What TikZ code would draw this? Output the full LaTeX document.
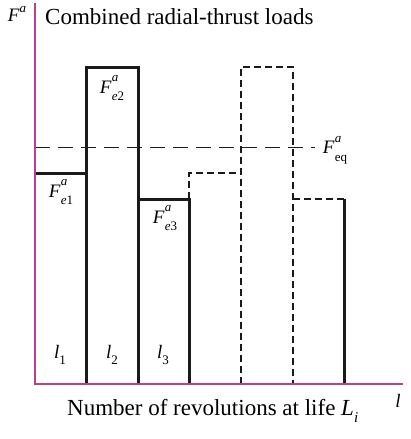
\documentclass[tikz,border=0pt]{standalone}
\usepackage{fontspec}
\setmainfont{Liberation Serif}
\definecolor{axiscol}{HTML}{B8408C}
\definecolor{barcol}{HTML}{1A1A1A}
\newcommand{\Flab}[2]{\textit{F}\kern0.02em\makebox[0pt][l]{\raisebox{0.62em}{\fontsize{13}{13}\selectfont\textit{a}}}\raisebox{-0.38em}{\fontsize{13}{13}\selectfont #2}}
\begin{document}
\begin{tikzpicture}[x=1pt,y=-1pt,
  solidbar/.style={barcol, line width=3pt, line join=miter},
  dashbar/.style={barcol, line width=2pt, dash pattern=on 7pt off 4pt},
  eqline/.style={barcol, line width=1pt, dash pattern=on 15pt off 8pt},
  axisline/.style={axiscol, line width=2pt},
  lab/.style={inner sep=0pt, font=\fontsize{19}{19}\selectfont},
  bigtext/.style={inner sep=0pt, font=\fontsize{23}{23}\selectfont}]
\useasboundingbox (0,0) rectangle (411,439);
% equivalent load line
\coordinate (eqA) at (35,147);
\coordinate (eqB) at (315,147);
\draw[eqline] (eqA) -- (eqB);
% solid bars
\draw[solidbar] (35,173) -- (86,173);
\draw[solidbar] (86,384) -- (86,67) -- (138,67) -- (138,384);
\draw[solidbar] (138,199) -- (189,199) -- (189,384);
% dashed bars
\draw[dashbar] (189,199) -- (189,173) -- (241,173);
\draw[dashbar] (241,384) -- (241,67) -- (293,67) -- (293,384);
\draw[dashbar] (293,199) -- (344,199);
\draw[solidbar] (344,199) -- (344,384);
% axes
\coordinate (ytop) at (35,3);
\coordinate (orig) at (35,384);
\coordinate (xend) at (403,384);
\draw[axisline] (ytop) -- (orig) -- (xend);
% labels
\node[lab] (fa) at (17,14) {\textit{F}\raisebox{0.5em}{\fontsize{13}{13}\selectfont\textit{a}}};
\node[bigtext, anchor=west] (title) at (45,17) {Combined radial-thrust loads};
\node[lab] (fe1) at (61,192) {\Flab{a}{\textit{e}1}};
\node[lab] (fe2) at (112,88) {\Flab{a}{\textit{e}2}};
\node[lab] (fe3) at (165,218) {\Flab{a}{\textit{e}3}};
\node[lab] (feq) at (335,150) {\Flab{a}{eq}};
\node[lab] (l1) at (60,355) {\textit{l}\raisebox{-0.3em}{\fontsize{13}{13}\selectfont 1}};
\node[lab] (l2) at (112,355) {\textit{l}\raisebox{-0.3em}{\fontsize{13}{13}\selectfont 2}};
\node[lab] (l3) at (163,355) {\textit{l}\raisebox{-0.3em}{\fontsize{13}{13}\selectfont 3}};
\node[lab] (lax) at (398,401) {\textit{l}};
\node[bigtext, anchor=west] (xlab) at (67,411) {Number of revolutions at life \textit{L}\raisebox{-0.3em}{\fontsize{15}{15}\selectfont\textit{i}}};
\end{tikzpicture}
\end{document}
